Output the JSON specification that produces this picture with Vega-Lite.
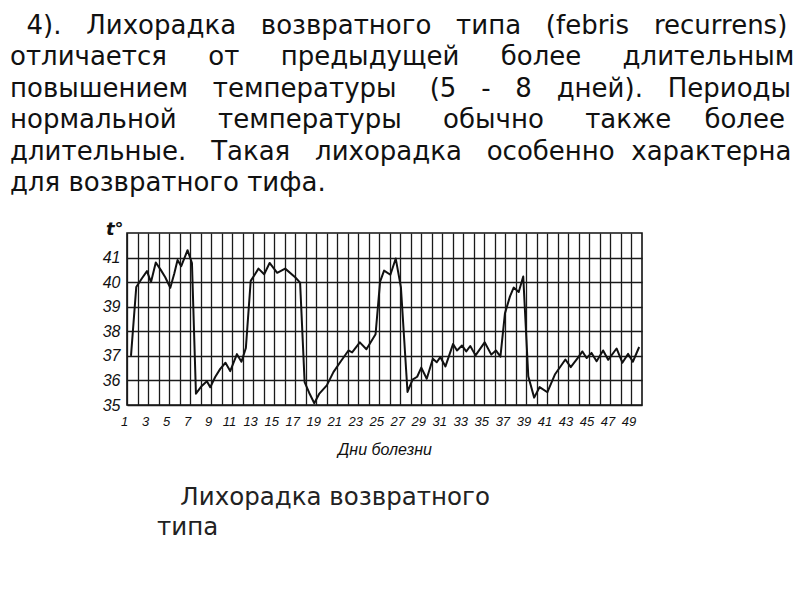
{
  "$schema": "https://vega.github.io/schema/vega-lite/v6.json",
  "autosize": {"type": "pad"},
  "padding": {"left": 10, "top": 12, "right": 5, "bottom": 5},
  "background": "white",
  "title": {
    "text": [
      "\u200b\u00a0\u00a04).\u00a0\u00a0 Лихорадка\u00a0\u00a0 возвратного\u00a0\u00a0 типа\u00a0\u00a0 (febris\u00a0\u00a0 recurrens)",
      "отличается\u00a0\u00a0\u00a0\u00a0 от\u00a0\u00a0\u00a0\u00a0 предыдущей\u00a0\u00a0\u00a0\u00a0 более\u00a0\u00a0\u00a0\u00a0 длительным",
      "повышением\u00a0\u00a0 температуры\u00a0\u00a0\u00a0 (5\u00a0\u00a0 -\u00a0\u00a0 8\u00a0\u00a0 дней).\u00a0\u00a0 Периоды",
      "нормальной\u00a0\u00a0\u00a0\u00a0 температуры\u00a0\u00a0\u00a0\u00a0 обычно\u00a0\u00a0\u00a0\u00a0 также\u00a0\u00a0\u00a0 более",
      "длительные.\u00a0\u00a0 Такая\u00a0\u00a0 лихорадка\u00a0\u00a0 особенно\u00a0 характерна",
      "для возвратного тифа."
    ],
    "anchor": "start",
    "frame": "group",
    "font": "DejaVu Sans",
    "fontSize": 26,
    "fontWeight": "normal",
    "color": "#111111",
    "lineHeight": 31.5,
    "offset": 23,
    "dx": -117
  },
  "config": {
    "view": {"stroke": "#111111", "strokeWidth": 1.6},
    "axis": {
      "domain": false,
      "ticks": false,
      "gridColor": "#1a1a1a",
      "gridOpacity": 1,
      "gridWidth": 1.3,
      "labelFont": "Liberation Sans",
      "labelFontStyle": "italic",
      "labelColor": "#111111",
      "titleColor": "#111111"
    }
  },
  "vconcat": [
    {
      "width": 515,
      "height": 172,
      "title": {
        "text": ["\u200b\u00a0\u00a0\u00a0Лихорадка возвратного", "типа"],
        "orient": "bottom",
        "anchor": "start",
        "frame": "group",
        "font": "DejaVu Sans",
        "fontSize": 24.5,
        "fontWeight": "normal",
        "color": "#222222",
        "lineHeight": 30,
        "offset": 29,
        "dx": 30
      },
      "data": {
        "values": [
          {"day": 0.88, "temp": 37.0},
          {"day": 1.38, "temp": 39.8},
          {"day": 1.91, "temp": 40.15},
          {"day": 2.40, "temp": 40.45},
          {"day": 2.78, "temp": 40.0},
          {"day": 3.24, "temp": 40.8},
          {"day": 3.71, "temp": 40.5},
          {"day": 4.14, "temp": 40.2},
          {"day": 4.62, "temp": 39.77},
          {"day": 5.00, "temp": 40.35},
          {"day": 5.31, "temp": 40.9},
          {"day": 5.66, "temp": 40.65},
          {"day": 6.26, "temp": 41.3},
          {"day": 6.68, "temp": 40.78},
          {"day": 7.06, "temp": 35.46},
          {"day": 7.56, "temp": 35.75},
          {"day": 8.10, "temp": 35.97},
          {"day": 8.42, "temp": 35.72},
          {"day": 8.89, "temp": 36.14},
          {"day": 9.37, "temp": 36.47},
          {"day": 9.87, "temp": 36.72},
          {"day": 10.32, "temp": 36.38},
          {"day": 10.96, "temp": 37.07},
          {"day": 11.39, "temp": 36.76},
          {"day": 11.81, "temp": 37.32},
          {"day": 12.27, "temp": 40.05},
          {"day": 12.65, "temp": 40.3},
          {"day": 13.01, "temp": 40.55},
          {"day": 13.55, "temp": 40.32},
          {"day": 14.07, "temp": 40.78},
          {"day": 14.79, "temp": 40.38},
          {"day": 15.55, "temp": 40.55},
          {"day": 16.50, "temp": 40.2},
          {"day": 16.97, "temp": 39.98},
          {"day": 17.40, "temp": 35.93},
          {"day": 17.83, "temp": 35.5},
          {"day": 18.32, "temp": 35.07},
          {"day": 18.78, "temp": 35.45},
          {"day": 19.51, "temp": 35.8},
          {"day": 20.14, "temp": 36.34},
          {"day": 20.78, "temp": 36.74},
          {"day": 21.57, "temp": 37.22},
          {"day": 21.92, "temp": 37.14},
          {"day": 22.65, "temp": 37.55},
          {"day": 23.28, "temp": 37.27},
          {"day": 24.15, "temp": 37.88},
          {"day": 24.58, "temp": 40.02},
          {"day": 24.96, "temp": 40.47},
          {"day": 25.56, "temp": 40.3},
          {"day": 26.07, "temp": 40.96},
          {"day": 26.56, "temp": 39.8},
          {"day": 27.19, "temp": 35.53},
          {"day": 27.67, "temp": 36.03},
          {"day": 28.11, "temp": 36.15},
          {"day": 28.50, "temp": 36.52},
          {"day": 29.02, "temp": 36.07},
          {"day": 29.60, "temp": 36.88},
          {"day": 29.97, "temp": 36.74},
          {"day": 30.31, "temp": 36.95},
          {"day": 30.80, "temp": 36.57},
          {"day": 31.52, "temp": 37.48},
          {"day": 31.90, "temp": 37.22},
          {"day": 32.37, "temp": 37.42},
          {"day": 32.78, "temp": 37.18},
          {"day": 33.16, "temp": 37.4},
          {"day": 33.66, "temp": 37.02},
          {"day": 34.53, "temp": 37.55},
          {"day": 35.16, "temp": 37.05},
          {"day": 35.60, "temp": 37.22},
          {"day": 36.03, "temp": 36.97},
          {"day": 36.46, "temp": 38.73},
          {"day": 36.94, "temp": 39.42},
          {"day": 37.29, "temp": 39.78},
          {"day": 37.77, "temp": 39.6},
          {"day": 38.20, "temp": 40.23},
          {"day": 38.68, "temp": 36.17},
          {"day": 39.24, "temp": 35.3},
          {"day": 39.76, "temp": 35.73},
          {"day": 40.50, "temp": 35.52},
          {"day": 41.21, "temp": 36.24},
          {"day": 42.21, "temp": 36.85},
          {"day": 42.72, "temp": 36.54},
          {"day": 43.43, "temp": 36.94},
          {"day": 43.83, "temp": 37.18},
          {"day": 44.23, "temp": 36.91},
          {"day": 44.70, "temp": 37.12},
          {"day": 45.18, "temp": 36.78},
          {"day": 45.80, "temp": 37.22},
          {"day": 46.28, "temp": 36.84},
          {"day": 47.08, "temp": 37.3},
          {"day": 47.63, "temp": 36.72},
          {"day": 48.18, "temp": 37.08},
          {"day": 48.63, "temp": 36.76},
          {"day": 49.23, "temp": 37.36}
        ]
      },
      "mark": {"type": "line", "color": "#111111", "strokeWidth": 2, "strokeJoin": "round"},
      "encoding": {
        "x": {
          "field": "day",
          "type": "quantitative",
          "scale": {"domain": [0.5, 49.5], "nice": false, "zero": false},
          "axis": {
            "values": [0.5, 1.5, 2.5, 3.5, 4.5, 5.5, 6.5, 7.5, 8.5, 9.5, 10.5, 11.5, 12.5, 13.5, 14.5, 15.5, 16.5, 17.5, 18.5, 19.5, 20.5, 21.5, 22.5, 23.5, 24.5, 25.5, 26.5, 27.5, 28.5, 29.5, 30.5, 31.5, 32.5, 33.5, 34.5, 35.5, 36.5, 37.5, 38.5, 39.5, 40.5, 41.5, 42.5, 43.5, 44.5, 45.5, 46.5, 47.5, 48.5],
            "labelExpr": "(datum.value + 0.5) % 2 == 1 ? format(datum.value + 0.5, 'd') : ''",
            "labelOffset": -3,
            "labelFlush": false,
            "labelOverlap": false,
            "labelPadding": 10,
            "labelFontSize": 13,
            "title": "Дни болезни",
            "titleFont": "Liberation Sans",
            "titleFontStyle": "italic",
            "titleFontWeight": "normal",
            "titleFontSize": 16,
            "titlePadding": 13
          }
        },
        "y": {
          "field": "temp",
          "type": "quantitative",
          "scale": {"domain": [35, 42], "nice": false, "zero": false},
          "axis": {
            "values": [35, 36, 37, 38, 39, 40, 41],
            "labelFontSize": 16,
            "labelPadding": 7,
            "title": "t°",
            "titleAngle": 0,
            "titleX": -4,
            "titleY": 1,
            "titleAlign": "right",
            "titleBaseline": "alphabetic",
            "titleFont": "DejaVu Sans",
            "titleFontStyle": "italic",
            "titleFontWeight": "bold",
            "titleFontSize": 18
          }
        }
      }
    }
  ]
}
